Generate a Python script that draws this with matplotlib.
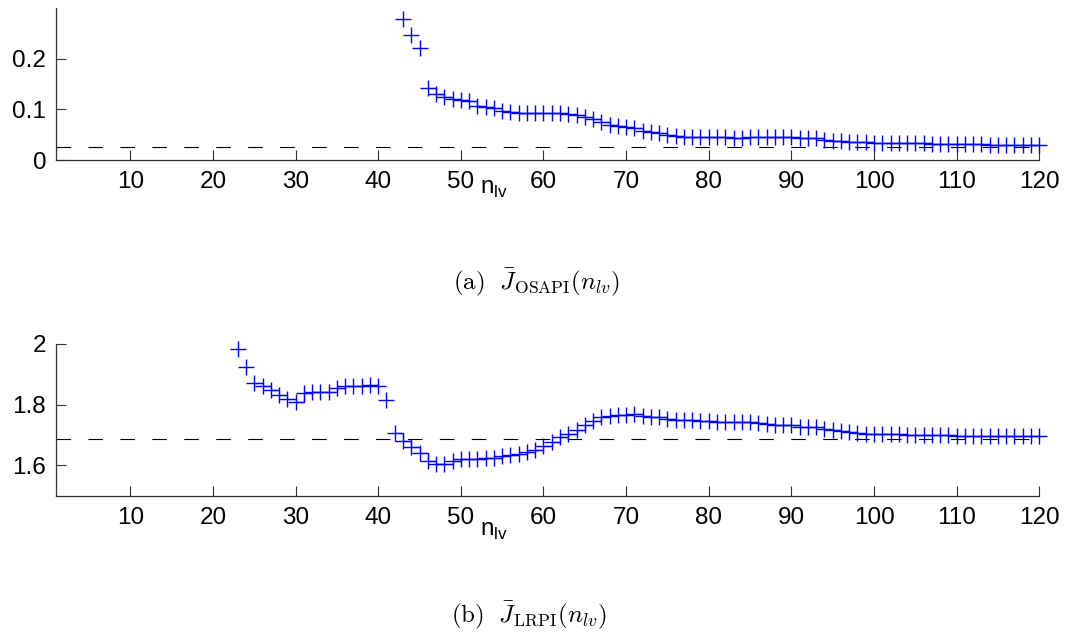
import numpy as np
import matplotlib
matplotlib.use("Agg")
import matplotlib.pyplot as plt

plt.rcParams["font.family"] = ["Liberation Sans", "DejaVu Sans"]
plt.rcParams["lines.scale_dashes"] = False

# number of latent variables
n_osapi = np.arange(43, 121)
n_lrpi = np.arange(23, 121)

# mean one-step-ahead prediction index
j_osapi = [
    0.279, 0.246, 0.2215, 0.143, 0.131, 0.125, 0.120, 0.119, 0.117, 0.107,
    0.104, 0.103, 0.097, 0.094, 0.092, 0.092, 0.092, 0.092, 0.092, 0.092,
    0.091, 0.089, 0.085, 0.080, 0.075, 0.070, 0.067, 0.065, 0.063, 0.057,
    0.055, 0.053, 0.050, 0.047, 0.046, 0.046, 0.046, 0.046, 0.045, 0.045,
    0.044, 0.044, 0.045, 0.045, 0.045, 0.045, 0.045, 0.045, 0.044, 0.044,
    0.043, 0.040, 0.038, 0.037, 0.036, 0.036, 0.035, 0.034, 0.034, 0.033,
    0.033, 0.033, 0.033, 0.033, 0.032, 0.032, 0.032, 0.031, 0.031, 0.031,
    0.031, 0.030, 0.030, 0.030, 0.030, 0.029, 0.029, 0.029,
]

# mean long-range prediction index
j_lrpi = [
    1.982, 1.925, 1.872, 1.860, 1.847, 1.831, 1.820, 1.809, 1.838, 1.842,
    1.842, 1.842, 1.856, 1.860, 1.860, 1.860, 1.864, 1.860, 1.817, 1.707,
    1.679, 1.660, 1.641, 1.616, 1.605, 1.605, 1.616, 1.622, 1.622, 1.622,
    1.623, 1.625, 1.630, 1.634, 1.638, 1.643, 1.652, 1.663, 1.677, 1.692,
    1.703, 1.715, 1.732, 1.747, 1.759, 1.762, 1.765, 1.767, 1.768, 1.762,
    1.760, 1.758, 1.753, 1.750, 1.749, 1.748, 1.747, 1.746, 1.744, 1.743,
    1.743, 1.742, 1.742, 1.738, 1.736, 1.734, 1.733, 1.732, 1.728, 1.726,
    1.725, 1.721, 1.718, 1.713, 1.709, 1.706, 1.704, 1.703, 1.703, 1.702,
    1.702, 1.701, 1.701, 1.700, 1.700, 1.699, 1.699, 1.698, 1.698, 1.698,
    1.697, 1.697, 1.697, 1.696, 1.696, 1.696, 1.696, 1.696,
]

# reference levels (dashed)
ref_osapi = 0.026
ref_lrpi = 1.686

# ranges of n where the stairs line joins the points
runs_osapi = [(46, 120)]
runs_lrpi = [(25, 40), (42, 120)]

xticks = list(range(10, 121, 10))
yticks_osapi = [0, 0.1, 0.2]
yticks_lrpi = [1.6, 1.8, 2.0]
yticklabels_lrpi = ["1.6", "1.8", "2"]


def draw_panel(ax, n, y, runs, ref, ylim, yticks, yticklabels):
    y = np.asarray(y)
    ax.axhline(ref, color="k", lw=0.8, ls=(0, (10.5, 12.5)))
    for first, last in runs:
        m = (n >= first) & (n <= last)
        ax.plot(n[m], y[m], drawstyle="steps-post", color="b", lw=0.9)
    ax.plot(n, y, "+", color="b", ms=11, mew=1.0, clip_on=False)

    ax.set_xlim(1, 120)
    ax.set_ylim(*ylim)
    ax.set_xticks(xticks)
    ax.set_yticks(yticks)
    ax.set_yticklabels(yticklabels)
    for side in ["top", "right"]:
        ax.spines[side].set_visible(False)
    for side in ["left", "bottom"]:
        ax.spines[side].set_color("#333333")
        ax.spines[side].set_linewidth(0.9)
    ax.tick_params(direction="in", length=7.2, width=0.8, color="#333333",
                   labelsize=17.5, labelcolor="k")
    ax.tick_params(axis="x", pad=8)
    ax.tick_params(axis="y", pad=7)


fig = plt.figure(figsize=(10.68, 6.33), dpi=100)
ax_a = fig.add_axes([0.0524, 0.7472, 0.9207, 0.2401])
ax_b = fig.add_axes([0.0524, 0.2169, 0.9207, 0.2397])

draw_panel(ax_a, n_osapi, j_osapi, runs_osapi, ref_osapi, (0, 0.3),
           yticks_osapi, ["0", "0.1", "0.2"])
draw_panel(ax_b, n_lrpi, j_lrpi, runs_lrpi, ref_lrpi, (1.5, 2.0),
           yticks_lrpi, yticklabels_lrpi)

for ax, ly in [(ax_a, -0.12), (ax_b, -0.16)]:
    ax.set_xlabel(r"n$_\mathregular{lv}$", fontsize=17.5, va="top")
    ax.xaxis.set_label_coords(0.445, ly)

fig.text(0.502, 0.553, r"$\mathrm{(a)}\ \ \bar{J}_{\mathrm{OSAPI}}(n_{lv})$",
         ha="center", va="center", fontsize=18, math_fontfamily="cm")
fig.text(0.495, 0.028, r"$\mathrm{(b)}\ \ \bar{J}_{\mathrm{LRPI}}(n_{lv})$",
         ha="center", va="center", fontsize=18, math_fontfamily="cm")

fig.savefig("out.png", dpi=100)
